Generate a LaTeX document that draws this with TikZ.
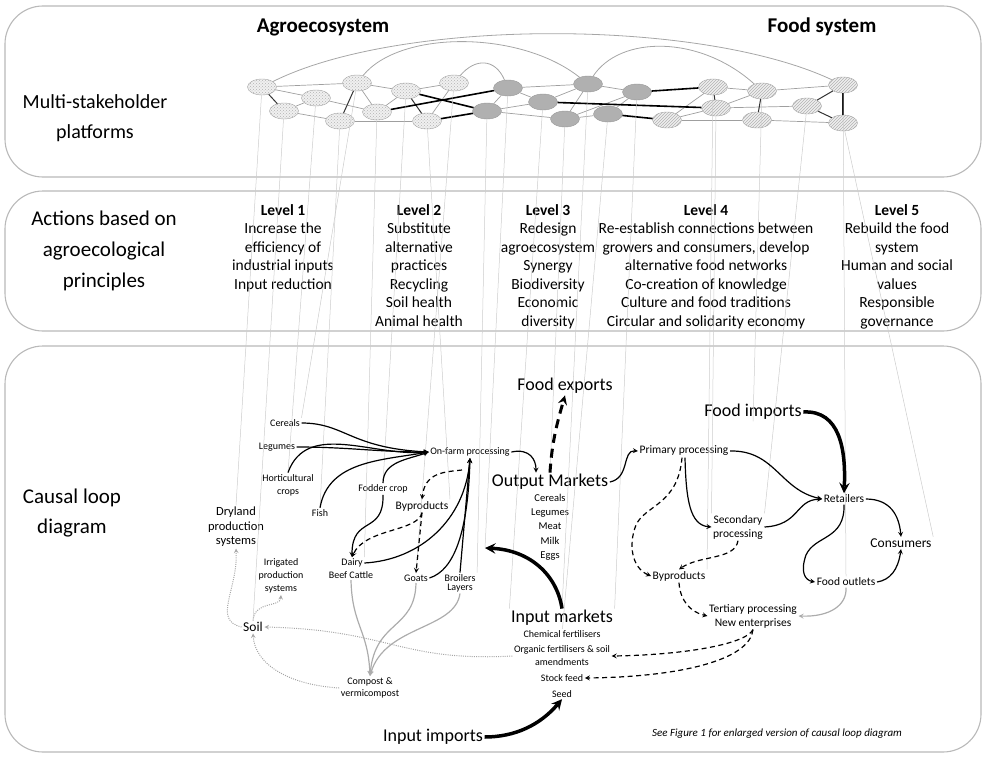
\documentclass[tikz,border=0pt]{standalone}
\usepackage{fontspec}
\setmainfont{Carlito}
\usetikzlibrary{arrows,shapes.geometric,patterns}
\newcommand{\fsz}[2]{\fontsize{#1}{#2}\selectfont}

\begin{document}
\begin{tikzpicture}[x=1pt,y=-1pt,>=stealth]
  \tikzstyle{box}=[draw=gray!55,line width=1.1pt,rounded corners=38pt]
  \tikzstyle{plat}=[ellipse,draw=gray!70,preaction={fill=gray!12},pattern=crosshatch dots,pattern color=gray!60,
                    minimum width=29pt,minimum height=16pt,inner sep=0pt]
  \tikzstyle{plath}=[plat,pattern=north east lines]
  \tikzstyle{platd}=[ellipse,draw=gray!80,fill=gray!62,minimum width=29pt,minimum height=16pt,inner sep=0pt]
  \tikzstyle{tie}=[gray!75,line width=0.7pt]
  \tikzstyle{tiem}=[black!80,line width=1pt]
  \tikzstyle{tieb}=[black,line width=1.6pt]
  \tikzstyle{arc}=[gray!70,line width=0.8pt]
  \tikzstyle{stake}=[gray!40,line width=0.5pt]
  \tikzstyle{lvl}=[font=\fsz{15.5}{18.5},align=center,anchor=north,inner sep=0pt]
  \tikzstyle{big}=[font=\fsz{18}{21},inner sep=1.5pt]
  \tikzstyle{sml}=[font=\fsz{10}{13},align=center,inner sep=1.5pt]
  \tikzstyle{med}=[font=\fsz{11.5}{14},align=center,inner sep=1.5pt]
  \tikzstyle{flow}=[->,line width=1.2pt]
  \tikzstyle{dflow}=[flow,dash pattern=on 5pt off 3.5pt]
  \tikzstyle{gflow}=[flow,gray!65]
  \tikzstyle{sflow}=[->,gray!70,line width=1pt,dash pattern=on 1pt off 1.2pt]
  \tikzstyle{heavy}=[->,line width=3.5pt]

  \useasboundingbox (0,0) rectangle (987,757);

  % the three bands
  \draw[box] (5,6) rectangle (981,177);
  \draw[box] (5,191) rectangle (981,331);
  \draw[box] (5,346) rectangle (981,752);

  \node[font=\fsz{21}{25}\bfseries] (agrot) at (323,27) {Agroecosystem};
  \node[font=\fsz{21}{25}\bfseries] (foodt) at (822,27) {Food system};
  \node[font=\fsz{20}{30},align=center] (mspt) at (95,118) {Multi-stakeholder\\platforms};
  \node[font=\fsz{21}{31},align=center] (actt) at (104,251) {Actions based on\\agroecological\\principles};
  \node[font=\fsz{21}{30},align=center] (cldt) at (72,513) {Causal loop\\diagram};

  % levels
  \node[lvl] (lv1) at (283,204) {\textbf{Level 1}\\Increase the\\efficiency of\\industrial inputs\\Input reduction};
  \node[lvl] (lv2) at (419,204) {\textbf{Level 2}\\Substitute\\alternative\\practices\\Recycling\\Soil health\\Animal health};
  \node[lvl] (lv3) at (548,204) {\textbf{Level 3}\\Redesign\\agroecosystem\\Synergy\\Biodiversity\\Economic\\diversity};
  \node[lvl] (lv4) at (706,204) {\textbf{Level 4}\\Re-establish connections between\\growers and consumers, develop\\alternative food networks\\Co-creation of knowledge\\Culture and food traditions\\Circular and solidarity economy};
  \node[lvl] (lv5) at (897,204) {\textbf{Level 5}\\Rebuild the food\\system\\Human and social\\values\\Responsible\\governance};

  % platform network
  \foreach \n/\x/\y in {A1/262/87, A2/284/111, A3/316/98, A4/340/121, A5/357/83, A6/377/112, A7/406/91, A8/427/121, A9/454/83}
    \node[plat] (\n) at (\x,\y) {};
  \foreach \n/\x/\y in {F1/713/87, F2/716/108, F3/667/120, F4/762/91, F5/757/120, F6/807/106, F7/843/85, F8/843/123}
    \node[plath] (\n) at (\x,\y) {};
  \foreach \n/\x/\y in {D1/487/111, D2/508/88, D3/543/102, D4/565/119, D5/588/84, D6/608/114, D7/637/92}
    \node[platd] (\n) at (\x,\y) {};

  % causal loop diagram
  \node[sml] (cer) at (285,423) {Cereals};
  \node[sml] (leg) at (277,447) {Legumes};
  \node[sml] (hort) at (288,485) {Horticultural\\crops};
  \node[sml] (fish) at (320,513) {Fish};
  \node[sml] (fod) at (383,489) {Fodder crop};
  \node[sml] (ofp) at (470,452) {On-farm processing};
  \node[med] (byl) at (422,506) {Byproducts};
  \node[sml] (dairy) at (352,563) {Dairy};
  \node[sml] (beef) at (351,575) {Beef Cattle};
  \node[sml] (goats) at (416,578) {Goats};
  \node[sml,font=\fsz{10}{9}] (broil) at (460,583) {Broilers\\Layers};
  \node[sml,font=\fsz{10}{12.5}] (comp) at (370,688) {Compost \&\\vermicompost};
  \node[sml] (irr) at (281,576) {Irrigated\\production\\systems};
  \node[font=\fsz{12.5}{14.5},align=center,inner sep=1.5pt] (dry) at (236,527) {Dryland\\production\\systems};
  \node[font=\fsz{13.5}{16},inner sep=1.5pt] (soil) at (253,627) {Soil};
  \coordinate (ofpb) at (462,470);
  \coordinate (farmin) at (485,548);

  \node[big] (out) at (550,482) {Output Markets};
  \node[sml,font=\fsz{10.5}{14.3}] (outl) at (550,527) {Cereals\\Legumes\\Meat\\Milk\\Eggs};
  \node[big] (fexp) at (565,386) {Food exports};
  \node[big] (fimp) at (753,412) {Food imports};
  \node[med] (pp) at (684,451) {Primary processing};
  \node[med] (sec) at (738,527) {Secondary\\processing};
  \node[med] (ret) at (844,499) {Retailers};
  \node[med,font=\fsz{13.5}{16}] (cons) at (901,543) {Consumers};
  \node[med] (byr) at (679,576) {Byproducts};
  \node[med] (fout) at (846,582) {Food outlets};
  \node[med] (ter) at (753,616) {Tertiary processing\\New enterprises};
  \node[big] (inm) at (562,618) {Input markets};
  \node[sml] (chem) at (562,634) {Chemical fertilisers};
  \node[sml] (org) at (562,656) {Organic fertilisers \& soil\\amendments};
  \node[sml] (feed) at (562,678) {Stock feed};
  \node[sml] (seed) at (562,694) {Seed};
  \node[big] (inimp) at (433,737) {Input imports};
  \node[font=\fsz{11}{13}\itshape] (note) at (777,734) {See Figure 1 for enlarged version of causal loop diagram};

  % network ties
  \foreach \a/\b in {A1/A5, A1/A3, A2/A3, A2/A4, A3/A6, A5/A6, A5/A7, A4/A8, A7/A6, A7/A9, A9/A8,
                     D1/D2, D1/D3, D2/D5, D3/D5, D4/D5, D4/D7, D6/D7, D4/D6, D5/D7, D1/D4, D2/D3,
                     F3/F1, F3/F2, F1/F4, F2/F4, F3/F5, F2/F6, F4/F7, F5/F8}
    \draw[tie] (\a) -- (\b);
  \foreach \a/\b in {A1/A2, A5/A4, A7/A8, F1/F2, F4/F5, F6/F7, F6/F8}
    \draw[tiem] (\a) -- (\b);
  \foreach \a/\b in {A7/D1, A6/D2, A8/D1, D3/F2, D6/F3, D7/F1, F7/F8}
    \draw[tieb] (\a) -- (\b);
  \draw[arc] (A1) .. controls (400,18) and (700,18) .. (F7);
  \draw[arc] (A5) .. controls (400,30) and (520,30) .. (D5);
  \draw[arc] (A9) .. controls (475,58) and (495,58) .. (D2);
  \draw[arc] (D5) .. controls (620,35) and (700,35) .. (F4);

  % platforms down to the diagram
  \foreach \a/\b in {A1/dry.north, A2/soil.north, A3/hort.north, A4/fish.north, A5/cer.north east, A6/dairy.north east,
                     A7/fod.north, A8/byl.north east, A9/goats.north, D1/broil.north east, D2/farmin, D3/inm.north west,
                     D4/out.north, D5/inm.north, D6/chem, D7/inm.north east, F1/byr.north east, F2/sec.north west,
                     F4/fimp.south, F6/sec.north east, F7/fout.north, F8/cons.north east}
    \draw[stake] (\a) -- (\b);

  % farm flows
  \draw[flow] (cer.east) .. controls (345,423) and (350,448) .. (ofp.west);
  \draw[flow] (leg.east) to[out=0,in=180] (ofp.west);
  \draw[flow] (hort.north) to[out=70,in=185] (ofp.west);
  \draw[flow] (fish.north) to[out=80,in=190] (ofp.west);
  \draw[flow] (fod.north) to[out=90,in=200] (ofp.west);
  \draw[flow] (fod.south) .. controls (384,535) and (352,515) .. (dairy.north);
  \draw[dflow] (ofpb) .. controls (445,472) and (425,472) .. (byl.north);
  \draw[dflow] (byl.south) .. controls (418,532) and (365,528) .. (dairy.north);
  \draw[dflow] (byl.south) -- (goats.north);
  \draw[flow] (dairy.east) .. controls (420,560) and (465,520) .. (ofp.south);
  \draw[flow] (goats.east) .. controls (455,570) and (468,530) .. (ofp.south);
  \draw[flow] (broil.north) -- (ofp.south);
  \draw[gflow] (beef.south) .. controls (352,625) and (368,630) .. (comp.north);
  \draw[gflow] (goats.south) .. controls (415,630) and (375,620) .. (comp.north);
  \draw[gflow] (broil.south) .. controls (455,630) and (385,625) .. (comp.north);
  \draw[sflow] (soil.west) .. controls (212,620) and (238,590) .. (dry.south);
  \draw[sflow] (soil.north) .. controls (255,600) and (280,608) .. (irr.south);
  \draw[sflow] (comp.west) .. controls (290,685) and (255,665) .. (soil.south);
  \draw[sflow] (org.west) .. controls (400,662) and (390,630) .. (soil.east);

  % markets
  \draw[flow] (ofp.east) .. controls (530,448) and (536,460) .. ([xshift=-14pt]out.north);
  \draw[heavy,dash pattern=on 9pt off 6pt,line width=3pt] (out.north) .. controls (552,440) and (558,420) .. (fexp.south);
  \draw[flow] (out.east) .. controls (630,478) and (622,450) .. (pp.west);
  \draw[heavy] (inm.north) .. controls (557,575) and (530,550) .. (farmin);
  \draw[heavy] (inimp.east) .. controls (515,737) and (540,725) .. (seed.south);

  % food system
  \draw[flow] (pp.east) .. controls (775,450) and (780,490) .. (ret.west);
  \draw[flow] ([xshift=1pt]pp.south) .. controls (686,500) and (690,525) .. (sec.west);
  \draw[flow] (sec.east) .. controls (800,525) and (795,500) .. (ret.west);
  \draw[heavy] (fimp.east) .. controls (840,410) and (846,450) .. (ret.north);
  \draw[dflow] ([xshift=-2pt]pp.south) .. controls (678,505) and (645,505) .. (636,525) .. controls (628,545) and (632,568) .. (byr.west);
  \draw[dflow] (sec.south) .. controls (735,560) and (700,555) .. (byr.north);
  \draw[flow] (ret.east) .. controls (890,499) and (899,515) .. (cons.north);
  \draw[flow] (ret.south) .. controls (845,540) and (815,535) .. (806,555) .. controls (800,572) and (805,580) .. (fout.west);
  \draw[flow] (fout.east) .. controls (890,580) and (898,570) .. (cons.south);
  \draw[gflow] (fout.south) .. controls (847,605) and (830,617) .. (ter.east);
  \draw[dflow] (byr.south) .. controls (680,600) and (690,612) .. (ter.west);
  \draw[dflow] (ter.south) .. controls (745,645) and (680,655) .. (org.east);
  \draw[dflow] (ter.south) .. controls (750,660) and (680,677) .. (feed.east);
\end{tikzpicture}
\end{document}
